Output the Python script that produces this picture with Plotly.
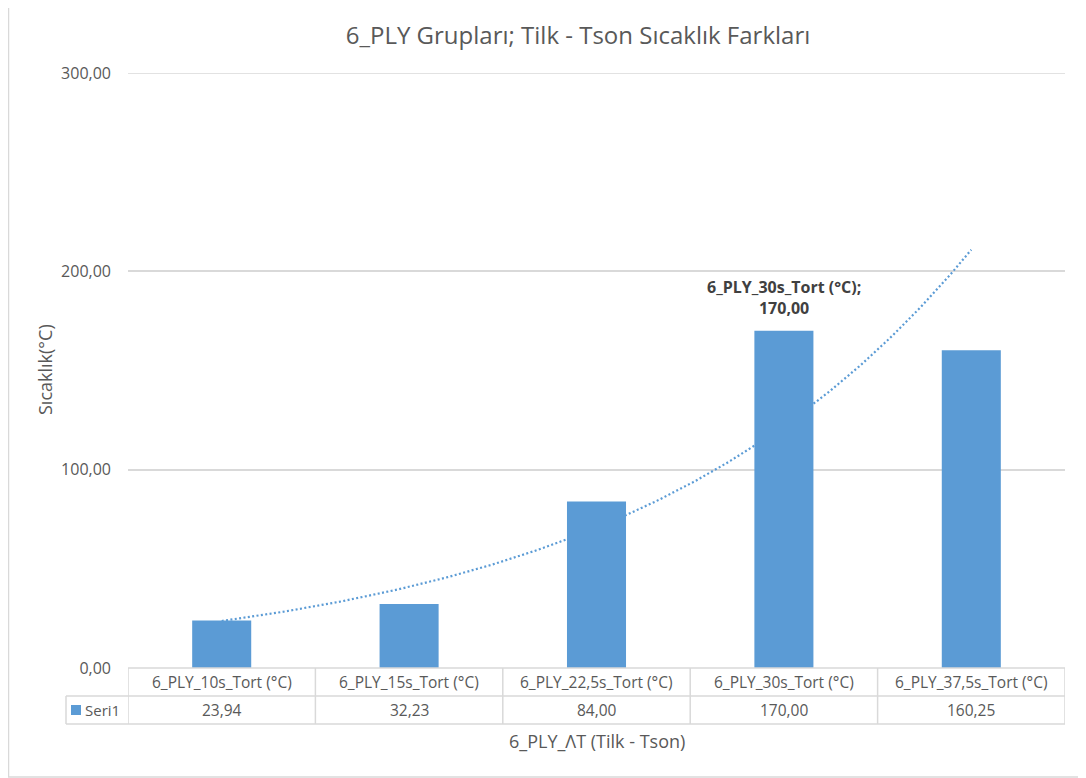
import numpy as np
import plotly.graph_objects as go

categories = ["6_PLY_10s_Tort (°C)", "6_PLY_15s_Tort (°C)", "6_PLY_22,5s_Tort (°C)",
              "6_PLY_30s_Tort (°C)", "6_PLY_37,5s_Tort (°C)"]
values = [23.94, 32.23, 84.00, 170.00, 160.25]
value_labels = ["23,94", "32,23", "84,00", "170,00", "160,25"]
series_name = "Seri1"
y_ticks = [0, 100, 200, 300]
y_tick_labels = ["0,00", "100,00", "200,00", "300,00"]

BLUE = "#5B9BD5"
GREY = "#595959"
LINE = "#D9D9D9"
FONT = "Open Sans"

xpos = np.arange(1, len(values) + 1)

# Exponential trendline (least squares on ln y), like Excel
b, ln_a = np.polyfit(xpos, np.log(values), 1)
xt = np.linspace(1, len(values), 200)
yt = np.exp(ln_a + b * xt)

fig = go.Figure()
fig.add_trace(go.Bar(x=xpos, y=values, marker=dict(color=BLUE, line=dict(width=0)),
                     width=0.315, zorder=1, showlegend=False, hoverinfo="skip"))
fig.add_trace(go.Scatter(x=xt, y=yt, mode="lines", zorder=0,
                         line=dict(color=BLUE, width=2.2, dash="2px,2.4px"),
                         showlegend=False, hoverinfo="skip"))

OFF = 8  # page offset of the figure in the browser
W, H = 1086 - OFF, 778 - OFF
L, R, T, B = 128 - OFF, 1065 - OFF, 73 - OFF, 668 - OFF
pw, ph = R - L, B - T


def px(xp):
    return (xp - OFF - L) / pw


def py(yp):
    return (B - (yp - OFF)) / ph


shapes = []
# chart frame
shapes.append(dict(type="rect", xref="paper", yref="paper", x0=px(8.5), x1=px(1100),
                   y0=py(777), y1=py(-10), line=dict(color=LINE, width=1.5), layer="below"))
# top gridline (300)
shapes.append(dict(type="line", xref="paper", yref="y", x0=0, x1=1, y0=y_ticks[-1], y1=y_ticks[-1],
                   line=dict(color=LINE, width=1.5), layer="below"))
# table horizontal lines
shapes.append(dict(type="line", xref="paper", yref="paper", x0=0, x1=1, y0=0, y1=0,
                   line=dict(color=LINE, width=1.5)))
for yy in (696, 724):
    shapes.append(dict(type="line", xref="paper", yref="paper", x0=px(66), x1=1,
                       y0=py(yy), y1=py(yy), line=dict(color=LINE, width=1.5)))
# table vertical lines
for i in range(len(values) + 1):
    xx = 0.5 + i
    shapes.append(dict(type="line", xref="x", yref="paper", x0=xx, x1=xx,
                       y0=py(724), y1=0, line=dict(color=LINE, width=1.5)))
shapes.append(dict(type="line", xref="paper", yref="paper", x0=px(66), x1=px(66),
                   y0=py(724), y1=py(696), line=dict(color=LINE, width=1.5)))
# legend key square
shapes.append(dict(type="rect", xref="paper", yref="paper", x0=px(71), x1=px(81),
                   y0=py(715), y1=py(705), fillcolor=BLUE, line=dict(width=0)))

annotations = []
for i, (c, v) in enumerate(zip(categories, value_labels)):
    annotations.append(dict(x=xpos[i], y=py(682), xref="x", yref="paper", text=c,
                            showarrow=False, font=dict(family=FONT, size=15.5, color=GREY),
                            xanchor="center", yanchor="middle"))
    annotations.append(dict(x=xpos[i], y=py(710), xref="x", yref="paper", text=v,
                            showarrow=False, font=dict(family=FONT, size=15.5, color=GREY),
                            xanchor="center", yanchor="middle"))
annotations.append(dict(x=px(83), y=py(710), xref="paper", yref="paper", text=series_name,
                        showarrow=False, font=dict(family=FONT, size=15, color=GREY),
                        xanchor="left", yanchor="middle"))
# x axis title
annotations.append(dict(x=0.5, y=py(741), xref="paper", yref="paper",
                        text="6_PLY_ΛT (Tilk - Tson)", showarrow=False,
                        font=dict(family=FONT, size=18, color=GREY),
                        xanchor="center", yanchor="middle"))
# y axis title
annotations.append(dict(x=px(45), y=py(370), xref="paper", yref="paper",
                        text="Sıcaklık(°C)", showarrow=False, textangle=-90,
                        font=dict(family=FONT, size=18, color=GREY),
                        xanchor="center", yanchor="middle"))
# data label on 4th bar
k = 3
annotations.append(dict(x=xpos[k], y=values[k], xref="x", yref="y",
                        text="<b>" + categories[k] + ";<br>" + value_labels[k] + "</b>",
                        showarrow=False, font=dict(family=FONT, size=16, color="#404040"),
                        xanchor="center", yanchor="bottom", yshift=10, align="center"))

fig.update_layout(
    width=W, height=H,
    margin=dict(l=L, r=W - R, t=T, b=H - B, autoexpand=False),
    paper_bgcolor="white", plot_bgcolor="white",
    title=dict(text="6_PLY Grupları; Tilk - Tson Sıcaklık Farkları",
               x=(578 - OFF) / W, xanchor="center", y=1 - (36 - OFF) / H, yanchor="middle",
               font=dict(family=FONT, size=24, color=GREY)),
    xaxis=dict(range=[0.5, len(values) + 0.5], showticklabels=False, showgrid=False,
               zeroline=False, showline=False, ticks=""),
    yaxis=dict(range=[0, 300], tickvals=y_ticks, ticktext=y_tick_labels,
               showgrid=True, gridcolor=LINE, gridwidth=1.5, zeroline=False,
               showline=False, ticks="", ticklabelstandoff=16,
               tickfont=dict(family=FONT, size=16, color=GREY)),
    shapes=shapes, annotations=annotations,
    bargap=0.685, showlegend=False,
)

fig.write_html("out.html")
